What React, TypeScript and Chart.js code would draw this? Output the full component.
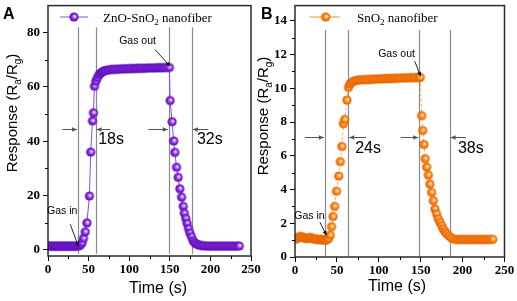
import React, { useEffect, useRef } from "react";
import { Chart, registerables } from "chart.js";

Chart.register(...registerables);

// ---------------- data ----------------
const timeA = [
  0, 2, 4, 6, 8, 10, 12, 14, 16, 18, 20, 22, 24, 26, 28, 30, 32, 34, 36, 38,
  40, 42, 43.7, 45.8, 47.9, 51, 52.6, 54.8, 56, 57.2, 59, 61, 63, 65, 67, 69, 71, 74, 77, 80,
  83, 86, 89, 92, 95, 98, 101, 104, 107, 110, 113, 116, 119, 122, 125, 128, 131, 134, 137, 140, 143, 146, 149.4,
  150.4, 152.8, 154.8, 156.2, 158.3, 160.3, 162.4, 164.5, 166.5, 167.8, 169.7, 171.3, 173, 174.7, 176.7, 178.7, 180.8, 183, 185.5, 188, 191,
  194, 197, 200, 203, 206, 209, 212, 215, 218, 221, 224, 227, 230, 233, 235.5,
];
const responseA = [
  1.3, 1.4, 1.3, 1.4, 1.3, 1.3, 1.4, 1.3, 1.3, 1.4, 1.3, 1.3, 1.4, 1.3, 1.3, 1.4, 1.3, 1.3, 1.4, 1.4,
  1.8, 2.6, 4.2, 6.6, 9.9, 19.8, 36, 47.5, 50.5, 60.3, 62.2, 63.5, 64.6, 65.2, 65.6, 65.9, 66.1, 66.3, 66.4, 66.5,
  66.5, 66.6, 66.6, 66.7, 66.7, 66.7, 66.8, 66.8, 66.8, 66.9, 66.9, 66.9, 66.9, 67.0, 67.0, 67.0, 67.0, 67.1, 67.1, 67.1, 67.1, 67.2, 67.2,
  55, 47.2, 40.1, 35.9, 30.4, 26.7, 22.5, 19.4, 16, 13.5, 11.5, 9.7, 7.8, 6.2, 4.8, 3.3, 2.6, 2.1, 1.8, 1.6, 1.5,
  1.4, 1.4, 1.3, 1.4, 1.3, 1.4, 1.3, 1.4, 1.3, 1.4, 1.3, 1.4, 1.3, 1.4, 1.4,
];

const timeB = [
  0, 2, 4, 6, 8, 10, 12, 14, 16, 18, 20, 22, 24, 26, 28, 30, 32, 34, 36, 38, 40,
  42, 43.6, 45.4, 47.3, 49.5, 52.2, 54, 56, 57.8, 59.3, 62, 63.8, 65.5, 67.5, 70, 73, 76,
  79, 82, 85, 88, 91, 94, 97, 100, 103, 106, 109, 112, 115, 118, 121, 124, 127, 130, 133, 136, 139, 142, 145, 148, 149.5,
  151.2, 152.4, 153.9, 155.3, 157.1, 159.1, 161, 163.1, 165, 167, 169, 171, 173, 175, 176.9, 178.9, 181, 184, 187, 190.5,
  194, 197, 200, 203, 206, 209, 212, 215, 218, 221, 224, 227, 230, 233, 236,
];
const responseB = [
  1.05, 1.1, 1.15, 1.22, 1.2, 1.15, 1.12, 1.1, 1.12, 1.16, 1.12, 1.08, 1.06, 1.05, 1.04, 1.03, 1.03, 1.02, 1.0, 1.02, 1.1,
  1.3, 1.8, 2.4, 3.0, 3.9, 4.8, 5.65, 6.55, 7.9, 8.15, 9.3, 10.05, 10.25, 10.35, 10.42, 10.47, 10.5,
  10.5, 10.51, 10.52, 10.52, 10.53, 10.54, 10.55, 10.55, 10.56, 10.57, 10.57, 10.58, 10.58, 10.59, 10.6, 10.6, 10.61, 10.61, 10.62, 10.62, 10.63, 10.63, 10.64, 10.64, 10.65,
  8.38, 7.5, 6.67, 5.83, 5.33, 4.85, 4.32, 3.83, 3.34, 2.85, 2.55, 2.26, 2.06, 1.86, 1.67, 1.51, 1.38, 1.24, 1.12, 1.05,
  1.04, 1.04, 1.04, 1.04, 1.04, 1.04, 1.04, 1.04, 1.04, 1.04, 1.04, 1.04, 1.04, 1.04, 1.05,
];

const xTicks = [0, 50, 100, 150, 200, 250];
const xMinorTicks = [25, 75, 125, 175, 225];
const yTicksA = [0, 20, 40, 60, 80];
const yMinorTicksA = [10, 30, 50, 70];
const yTicksB = [0, 2, 4, 6, 8, 10, 12, 14];
const yMinorTicksB = [1, 3, 5, 7, 9, 11, 13];

const gasTimesA = [37, 58.5, 148.8, 177];
const gasTimesB = [35.7, 63.5, 148.3, 184.5];
const intervalLabelsA = ["18s", "32s"];
const intervalLabelsB = ["24s", "38s"];

type Part = { t: string; sub?: boolean };
const legendA: Part[] = [{ t: "ZnO-SnO" }, { t: "2", sub: true }, { t: " nanofiber" }];
const legendB: Part[] = [{ t: "SnO" }, { t: "2", sub: true }, { t: " nanofiber" }];
const yTitle: Part[] = [
  { t: "Response (R" }, { t: "a", sub: true }, { t: "/R" }, { t: "g", sub: true }, { t: ")" },
];

const SANS = '"Liberation Sans", Arial, sans-serif';
const SERIF = '"Liberation Serif", "Times New Roman", serif';

function makeMarker(light: string, base: string, dark: string, r: number) {
  const s = Math.ceil(r * 2) + 2;
  const c = document.createElement("canvas");
  c.width = s;
  c.height = s;
  const ctx = c.getContext("2d")!;
  const cx = s / 2, cy = s / 2;
  const g = ctx.createRadialGradient(cx + 0.2 * r, cy - 0.15 * r, 0.2, cx, cy, r);
  g.addColorStop(0, "#ffffff");
  g.addColorStop(0.22, light);
  g.addColorStop(0.55, base);
  g.addColorStop(1, dark);
  ctx.fillStyle = g;
  ctx.beginPath();
  ctx.arc(cx, cy, r, 0, Math.PI * 2);
  ctx.fill();
  return c;
}

function drawRich(ctx: CanvasRenderingContext2D, parts: Part[], x: number, y: number, size: number, family: string, align: "left" | "center") {
  const font = `${size}px ${family}`;
  const sfont = `${Math.round(size * 0.68)}px ${family}`;
  let w = 0;
  parts.forEach((p) => { ctx.font = p.sub ? sfont : font; w += ctx.measureText(p.t).width; });
  let cx = align === "center" ? x - w / 2 : x;
  ctx.textAlign = "left";
  ctx.textBaseline = "alphabetic";
  parts.forEach((p) => {
    ctx.font = p.sub ? sfont : font;
    ctx.fillText(p.t, cx, y + (p.sub ? size * 0.25 : 0));
    cx += ctx.measureText(p.t).width;
  });
}

function arrow(ctx: CanvasRenderingContext2D, x1: number, y1: number, x2: number, y2: number, head = 5, hw = 2.2) {
  ctx.beginPath();
  ctx.moveTo(x1, y1);
  ctx.lineTo(x2, y2);
  ctx.stroke();
  const a = Math.atan2(y2 - y1, x2 - x1);
  const bx = x2 - head * Math.cos(a), by = y2 - head * Math.sin(a);
  ctx.beginPath();
  ctx.moveTo(x2, y2);
  ctx.lineTo(bx + hw * Math.sin(a), by - hw * Math.cos(a));
  ctx.lineTo(bx - hw * Math.sin(a), by + hw * Math.cos(a));
  ctx.closePath();
  ctx.fill();
}

type Panel = {
  key: string; left: number; width: number; padRight: number; yWidth: number; xHeight: number;
  yMin: number; yMax: number; yTicks: number[]; yMinor: number[];
  time: number[]; resp: number[];
  colors: { light: string; base: string; dark: string; line: string; legendLine: string; dash: number[] };
  gasTimes: number[]; lineTop: number; lineBottom: number;
  intervals: { from: number; to: number }[]; intervalY: number;
  intervalLabels: string[]; intervalLabelPos: { x: number; y: number }[];
  gasOut: { x: number; y: number; ax1: number; ay1: number; ax2: number; ay2: number };
  gasIn: { x: number; y: number; ax1: number; ay1: number; ax2: number; ay2: number };
  letter: { x: number; y: number }; yTitlePos: { x: number; y: number }; xTitlePos: { x: number; y: number };
  legend: Part[]; legendPos: { x1: number; x2: number; y: number; mx: number; tx: number; ty: number };
};

const panels: Panel[] = [
  {
    key: "A", left: 0, width: 266, padRight: 15, yWidth: 48, xHeight: 45,
    yMin: -2.3, yMax: 90, yTicks: yTicksA, yMinor: yMinorTicksA,
    time: timeA, resp: responseA,
    colors: { light: "#c79cff", base: "#8a2be2", dark: "#5208b0", line: "#8f4ae8", legendLine: "#c6a6f2", dash: [] },
    gasTimes: gasTimesA, lineTop: 82, lineBottom: -1.5,
    intervals: [{ from: 17.6, to: 37 }, { from: 76.5, to: 58.5 }, { from: 123.6, to: 148.8 }, { from: 197.3, to: 177 }],
    intervalY: 44.6,
    intervalLabels: intervalLabelsA, intervalLabelPos: [{ x: 61.8, y: 40.6 }, { x: 183.4, y: 40.6 }],
    gasOut: { x: 110.3, y: 76.8, ax1: 131.8, ay1: 73.8, ax2: 150.4, ay2: 67.6 },
    gasIn: { x: 17.6, y: 14.2, ax1: 27.4, ay1: 9.4, ax2: 37.6, ay2: 1.1 },
    letter: { x: 3, y: 19 }, yTitlePos: { x: 17, y: 113 }, xTitlePos: { x: 158, y: 289 },
    legend: legendA, legendPos: { x1: 60, x2: 88, y: 17, mx: 74, tx: 103, ty: 22 },
  },
  {
    key: "B", left: 250, width: 267, padRight: 12.5, yWidth: 45, xHeight: 44,
    yMin: 0, yMax: 14.9, yTicks: yTicksB, yMinor: yMinorTicksB,
    time: timeB, resp: responseB,
    colors: { light: "#ffc27a", base: "#ff8410", dark: "#dc5c00", line: "#ffb060", legendLine: "#ffc890", dash: [3, 2] },
    gasTimes: gasTimesB, lineTop: 13.45, lineBottom: 0,
    intervals: [{ from: 11.9, to: 35.7 }, { from: 84.9, to: 63.5 }, { from: 126.2, to: 148.3 }, { from: 203.9, to: 184.5 }],
    intervalY: 7.1,
    intervalLabels: intervalLabelsB, intervalLabelPos: [{ x: 71.8, y: 6.4 }, { x: 194.4, y: 6.4 }],
    gasOut: { x: 121.2, y: 12.04, ax1: 142.9, ay1: 11.6, ax2: 150, ay2: 10.7 },
    gasIn: { x: 17.3, y: 2.41, ax1: 29.8, ay1: 2.06, ax2: 37.6, ay2: 1.28 },
    letter: { x: 11, y: 19 }, yTitlePos: { x: 18, y: 116 }, xTitlePos: { x: 147, y: 287 },
    legend: legendB, legendPos: { x1: 59.7, x2: 89.7, y: 17, mx: 75.7, tx: 107, ty: 22 },
  },
];

function PanelChart({ p }: { p: Panel }) {
  const ref = useRef<HTMLCanvasElement | null>(null);
  useEffect(() => {
    const canvas = ref.current!;
    const marker = makeMarker(p.colors.light, p.colors.base, p.colors.dark, 4.6);
    const plugin = {
      id: "panelDecor" + p.key,
      beforeDatasetsDraw(chart: any) {
        const { ctx, scales } = chart;
        const xs = scales.x, ys = scales.y;
        ctx.save();
        ctx.strokeStyle = "#8a8a8a";
        ctx.lineWidth = 1.2;
        p.gasTimes.forEach((v) => {
          const px = Math.round(xs.getPixelForValue(v)) + 0.5;
          ctx.beginPath();
          ctx.moveTo(px, ys.getPixelForValue(p.lineTop));
          ctx.lineTo(px, ys.getPixelForValue(p.lineBottom));
          ctx.stroke();
        });
        ctx.restore();
      },
      afterDraw(chart: any) {
        const { ctx, chartArea: ca, scales } = chart;
        const X = (v: number) => scales.x.getPixelForValue(v);
        const Y = (v: number) => scales.y.getPixelForValue(v);
        ctx.save();
        // frame
        ctx.strokeStyle = "#2a2a2a";
        ctx.lineWidth = 1.5;
        ctx.strokeRect(ca.left, ca.top, ca.right - ca.left, ca.bottom - ca.top);
        // minor ticks
        ctx.strokeStyle = "#000";
        ctx.lineWidth = 1;
        ctx.beginPath();
        xMinorTicks.forEach((v) => {
          const px = Math.round(X(v)) + 0.5;
          ctx.moveTo(px, ca.bottom);
          ctx.lineTo(px, ca.bottom + 3);
        });
        p.yMinor.forEach((v) => {
          const py = Math.round(Y(v)) + 0.5;
          ctx.moveTo(ca.left, py);
          ctx.lineTo(ca.left - 3, py);
        });
        ctx.stroke();
        // interval arrows
        ctx.strokeStyle = "#555";
        ctx.fillStyle = "#555";
        ctx.lineWidth = 1;
        p.intervals.forEach((it) => {
          const y = Math.round(Y(p.intervalY)) + 0.5;
          arrow(ctx, X(it.from), y, X(it.to) + (it.to > it.from ? -1 : 1), y, 5, 2.3);
        });
        // interval labels
        ctx.fillStyle = "#000";
        ctx.font = `16px ${SANS}`;
        ctx.textAlign = "left";
        ctx.textBaseline = "middle";
        p.intervalLabels.forEach((t, i) => ctx.fillText(t, X(p.intervalLabelPos[i].x), Y(p.intervalLabelPos[i].y)));
        // gas in / gas out
        ctx.font = `10.5px ${SANS}`;
        ctx.textAlign = "center";
        ctx.fillText("Gas out", X(p.gasOut.x), Y(p.gasOut.y));
        ctx.fillText("Gas in", X(p.gasIn.x), Y(p.gasIn.y));
        ctx.strokeStyle = "#111";
        ctx.fillStyle = "#111";
        ctx.lineWidth = 0.9;
        arrow(ctx, X(p.gasOut.ax1), Y(p.gasOut.ay1), X(p.gasOut.ax2), Y(p.gasOut.ay2), 4.5, 2);
        arrow(ctx, X(p.gasIn.ax1), Y(p.gasIn.ay1), X(p.gasIn.ax2), Y(p.gasIn.ay2), 4.5, 2);
        // panel letter
        ctx.fillStyle = "#000";
        ctx.font = `bold 16px ${SANS}`;
        ctx.textAlign = "left";
        ctx.textBaseline = "alphabetic";
        ctx.fillText(p.key, p.letter.x, p.letter.y);
        // x title
        ctx.font = `16px ${SANS}`;
        ctx.textAlign = "center";
        ctx.textBaseline = "middle";
        ctx.fillText("Time (s)", p.xTitlePos.x, p.xTitlePos.y);
        // y title
        ctx.save();
        ctx.translate(p.yTitlePos.x, p.yTitlePos.y);
        ctx.rotate(-Math.PI / 2);
        drawRich(ctx, yTitle, 0, 0, 15, SANS, "center");
        ctx.restore();
        // legend
        const L = p.legendPos;
        ctx.strokeStyle = p.colors.legendLine;
        ctx.lineWidth = 2;
        ctx.beginPath();
        ctx.moveTo(L.x1, L.y);
        ctx.lineTo(L.x2, L.y);
        ctx.stroke();
        ctx.drawImage(marker, L.mx - marker.width / 2, L.y - marker.height / 2);
        ctx.fillStyle = "#000";
        drawRich(ctx, p.legend, L.tx, L.ty, 13, SERIF, "left");
        ctx.restore();
      },
    };

    const chart = new Chart(canvas, {
      type: "line",
      data: {
        datasets: [
          {
            data: p.time.map((t, i) => ({ x: t, y: p.resp[i] })),
            borderColor: p.colors.line,
            borderWidth: 1,
            borderDash: p.colors.dash,
            tension: 0,
            pointStyle: marker as any,
            pointRadius: 4.6,
            pointHoverRadius: 4.6,
          },
        ],
      },
      options: {
        animation: false,
        responsive: false,
        devicePixelRatio: 1,
        events: [],
        layout: { padding: { left: 0, right: p.padRight, top: 4, bottom: 0 } },
        plugins: { legend: { display: false }, tooltip: { enabled: false } },
        scales: {
          x: {
            type: "linear",
            min: 0,
            max: 250,
            afterBuildTicks: (s: any) => { s.ticks = xTicks.map((v) => ({ value: v })); },
            afterFit: (s: any) => {
              s.height = p.xHeight;
              s.paddingLeft = 0; s.paddingRight = 0; s.paddingTop = 0; s.paddingBottom = 0;
            },
            ticks: { font: { family: SERIF, size: 13, weight: "bold" }, color: "#000", padding: 1, maxRotation: 0, autoSkip: false },
            grid: { drawOnChartArea: false, drawTicks: true, tickLength: 5, color: "#000", lineWidth: 1 },
            border: { display: false },
          },
          y: {
            type: "linear",
            min: p.yMin,
            max: p.yMax,
            afterBuildTicks: (s: any) => { s.ticks = p.yTicks.map((v) => ({ value: v })); },
            afterFit: (s: any) => {
              s.width = p.yWidth;
              s.paddingLeft = 0; s.paddingRight = 0; s.paddingTop = 0; s.paddingBottom = 0;
            },
            ticks: { font: { family: SERIF, size: 13, weight: "bold" }, color: "#000", padding: 3, autoSkip: false },
            grid: { drawOnChartArea: false, drawTicks: true, tickLength: 5, color: "#000", lineWidth: 1 },
            border: { display: false },
          },
        },
      },
      plugins: [plugin],
    } as any);
    return () => chart.destroy();
  }, [p]);
  return (
    <canvas
      ref={ref}
      width={p.width}
      height={301}
      style={{ position: "absolute", left: p.left, top: 0, width: p.width, height: 301 }}
    />
  );
}

export default function App() {
  return (
    <div style={{ position: "absolute", left: 0, top: 0, width: 517, height: 301, background: "#fff", overflow: "hidden" }}>
      {panels.map((p) => (
        <PanelChart key={p.key} p={p} />
      ))}
    </div>
  );
}
